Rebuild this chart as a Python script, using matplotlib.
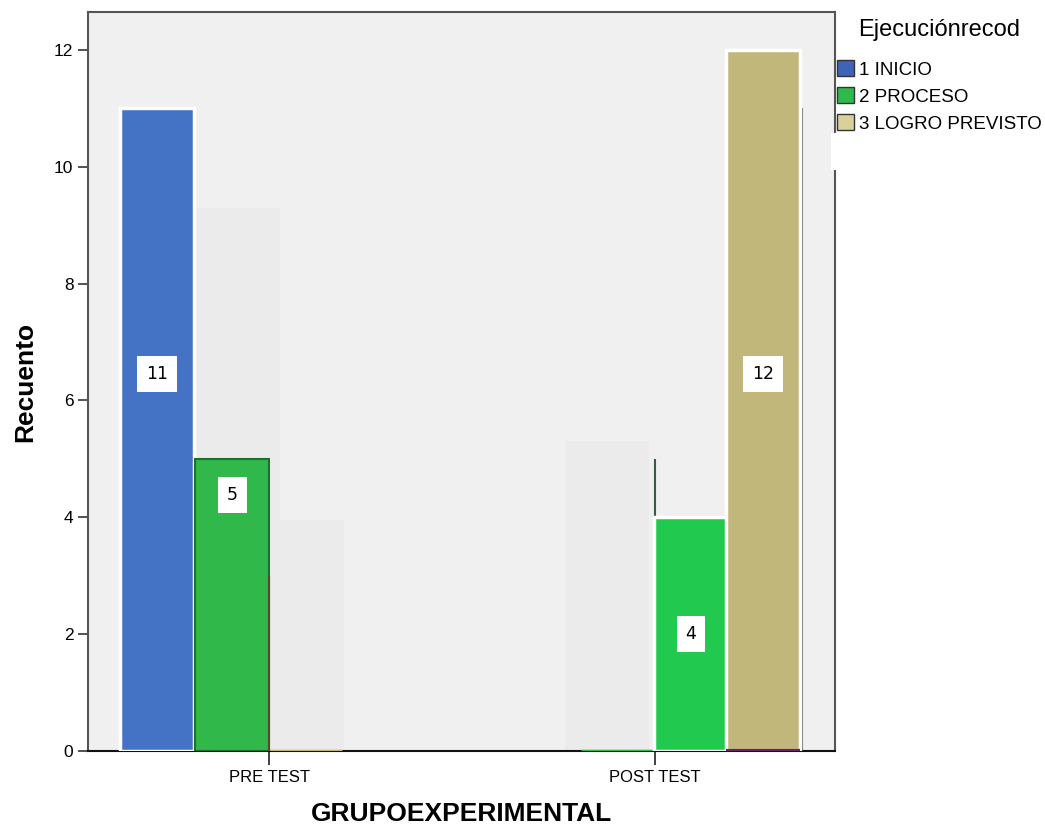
import numpy as np
import matplotlib
matplotlib.use("Agg")
import matplotlib.pyplot as plt
from matplotlib.patches import Patch, Rectangle

plt.rcParams['font.family'] = ['Liberation Sans', 'DejaVu Sans']

# counts per group
groups = ['PRE TEST', 'POST TEST']
categories = ['1 INICIO', '2 PROCESO', '3 LOGRO PREVISTO']
pre_counts = [11, 5, 0]          # inicio, proceso, logro
post_counts = [0, 4, 12]         # proceso (empty), proceso, logro
post_extra = [0]                 # empty bar under logro
# faded leftover bars behind the clusters
ghost_pre = [9.3, 3.95]
ghost_post = [5.3]
# leftover edge lines
edge_pre = [3.0]
edge_post = [5.0, 11.0]

c_blue = '#4472c4'
c_green = '#30b84a'
c_green2 = '#22c94f'
c_gold = '#c2b77a'
c_purple = '#6b1f6e'
c_ghost = '#ebebeb'

fig = plt.figure(figsize=(10.45, 8.31), dpi=100)
ax = fig.add_axes([0.0842, 0.0963, 0.7148, 0.8893])
ax.set_facecolor('#f0f0f0')

slots = np.array([-0.29, -0.095, 0.093, 0.28])
w = 0.192
x = np.arange(len(groups))

# ghost rectangles first so the real bars sit on top
ax.bar(x[0] + slots[1] + 0.015, ghost_pre[0], width=0.215, color=c_ghost, zorder=1)
ax.bar(x[0] + slots[2] + 0.005, ghost_pre[1], width=0.19, color=c_ghost, zorder=1)
ax.bar(x[1] + slots[1] - 0.03, ghost_post[0], width=0.218, color=c_ghost, zorder=1)

# PRE TEST cluster
ax.bar(x[0] + slots[0], pre_counts[0], width=w, color=c_blue, edgecolor='white', linewidth=2.5, zorder=3)
ax.bar(x[0] + slots[1], pre_counts[1], width=w, color=c_green, edgecolor='#1f6e30', linewidth=1.5, zorder=3)
ax.bar(x[0] + slots[2], pre_counts[2], width=w, color=c_gold, edgecolor=c_gold, linewidth=2.5, zorder=3)

# POST TEST cluster
ax.bar(x[1] + slots[1], post_counts[0], width=w, color=c_green, edgecolor=c_green, linewidth=2.5, zorder=3)
ax.bar(x[1] + slots[2], post_counts[1], width=w, color=c_green2, edgecolor='white', linewidth=2.5, zorder=3)
ax.bar(x[1] + slots[3], post_counts[2], width=w, color=c_gold, edgecolor='white', linewidth=2.5, zorder=3)
ax.bar(x[1] + slots[3], post_extra[0], width=w, color=c_purple, edgecolor=c_purple, linewidth=3, zorder=4)

# stray edge lines
ax.vlines(x[0] + slots[1] + w / 2, 0, edge_pre[0], color='#5a4a2a', linewidth=1.5, zorder=4)
ax.vlines(x[1] + slots[1] + w / 2, post_counts[1], edge_post[0], color='#3d5a45', linewidth=1.5, zorder=2)
ax.vlines(x[1] + slots[3] + w / 2 + 0.004, 0, edge_post[1], color='#666666', linewidth=1.5, zorder=2)

# value labels in white boxes
label_y = [6.45, 4.38, 2.0, 6.45]
labels = [(x[0] + slots[0], pre_counts[0]), (x[0] + slots[1], pre_counts[1]),
          (x[1] + slots[2], post_counts[1]), (x[1] + slots[3], post_counts[2])]
for (bx, val), ly in zip(labels, label_y):
    ax.text(bx, ly, str(val), ha='center', va='center', fontsize=12.5, color='black', zorder=6,
            family=['DejaVu Sans'],
            bbox=dict(boxstyle='square,pad=0.5', facecolor='white', edgecolor='none'))

ax.set_xlim(-0.469, 1.466)
ax.set_ylim(0, 12.65)
ax.set_yticks(np.arange(0, 13, 2))
ax.set_xticks(x)
ax.set_xticklabels(groups, fontsize=12)
ax.tick_params(axis='y', labelsize=12.5, length=7, width=1.2, direction='out', color='#333333')
ax.tick_params(axis='x', length=10, width=1.2, direction='out', color='#222222', pad=4)

for side in ['left', 'top', 'right']:
    ax.spines[side].set_color('#555555')
    ax.spines[side].set_linewidth(1.5)
ax.spines['bottom'].set_color('#111111')
ax.spines['bottom'].set_linewidth(1.5)

ax.set_ylabel('Recuento', fontsize=19, fontweight='bold', labelpad=12)
ax.set_xlabel('GRUPOEXPERIMENTAL', fontsize=19, fontweight='bold', labelpad=12)

# legend placed outside the plot, top right
handles = [Patch(facecolor='#3f63b8', edgecolor='#333333', label=categories[0]),
           Patch(facecolor='#2fb94c', edgecolor='#333333', label=categories[1]),
           Patch(facecolor='#d9d19a', edgecolor='#333333', label=categories[2])]
leg = fig.legend(handles=handles, loc='upper left', bbox_to_anchor=(0.797, 0.982),
                 title='Ejecuciónrecod', fontsize=13.5, title_fontsize=17, frameon=False,
                 handlelength=0.95, handleheight=0.95, handletextpad=0.25, labelspacing=0.45,
                 borderpad=0.2, borderaxespad=0, alignment='center')
leg._legend_box.sep = 14

# white patch covering part of the right frame beside the legend
fig.patches.append(Rectangle((0.795, 1 - 170 / 831), 0.01, 37 / 831, transform=fig.transFigure,
                             facecolor='white', edgecolor='none', zorder=10))

fig.savefig('out.png', dpi=100, facecolor='white')
